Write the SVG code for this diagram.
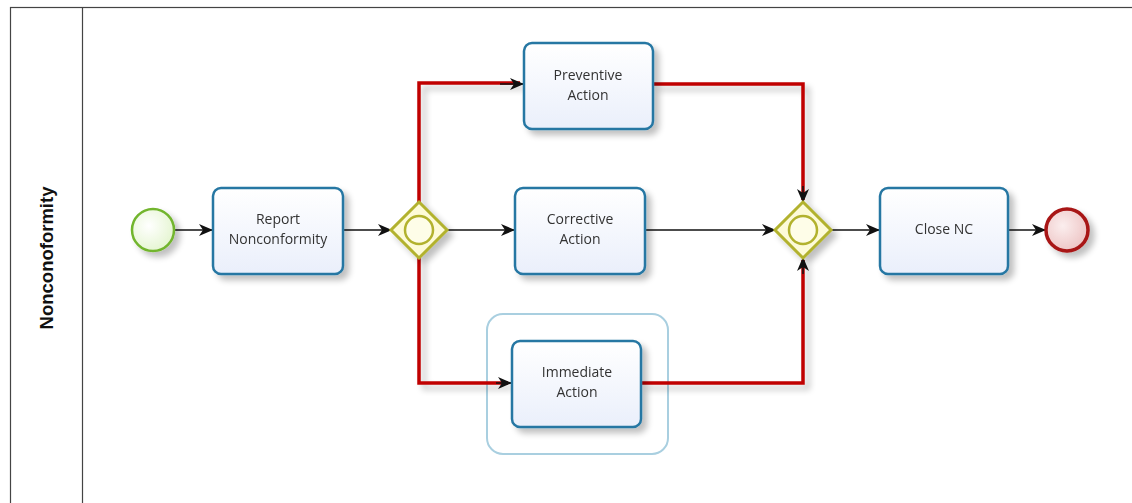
<svg xmlns="http://www.w3.org/2000/svg" width="1132" height="503" viewBox="0 0 1132 503">
<style>
.task{fill:url(#tg);stroke:#2677a3;stroke-width:2.5}
.lbl{font-family:"Open Sans","Noto Sans",sans-serif;font-size:14px;fill:#333;text-anchor:middle}
.flow{fill:none;stroke:#111;stroke-width:1.5}
.red{fill:none;stroke:#c00000;stroke-width:3.5;stroke-linejoin:miter}
.gw{fill:#fdfbd8;stroke:#b2b22e;stroke-width:3}
</style>
<defs>
<linearGradient id="tg" x1="0" y1="0" x2="0" y2="1"><stop offset="0" stop-color="#ffffff"/><stop offset="1" stop-color="#eaeffb"/></linearGradient>
<radialGradient id="sg" cx="0.4" cy="0.4" r="0.7"><stop offset="0" stop-color="#ffffff"/><stop offset="1" stop-color="#e2f4cc"/></radialGradient>
<radialGradient id="eg" cx="0.4" cy="0.4" r="0.7"><stop offset="0" stop-color="#fbeeee"/><stop offset="1" stop-color="#ecc0c0"/></radialGradient>
<filter id="sh" x="-20%" y="-20%" width="150%" height="150%"><feGaussianBlur in="SourceAlpha" stdDeviation="3"/><feOffset dx="5" dy="5"/><feComponentTransfer><feFuncA type="linear" slope="0.25"/></feComponentTransfer><feMerge><feMergeNode/><feMergeNode in="SourceGraphic"/></feMerge></filter>
<marker id="ar" viewBox="0 0 14 12" refX="13" refY="6" markerWidth="14" markerHeight="12" markerUnits="userSpaceOnUse" orient="auto"><path d="M0,0 L14,6 L0,12 L4,6 Z" fill="#111"/></marker>
</defs>
<rect width="1132" height="503" fill="#ffffff"/>
<g id="pool">
<rect x="10.5" y="7.5" width="1130" height="505" fill="none" stroke="#444" stroke-width="1.2"/>
<line x1="82.5" y1="7.5" x2="82.5" y2="503" stroke="#444" stroke-width="1.2"/>
<text x="0" y="0" transform="translate(53,258) rotate(-90)" font-family="'Liberation Sans',Arial,sans-serif" font-size="18.5" font-weight="bold" text-anchor="middle" fill="#111">Nonconoformity</text>
</g>
<g id="immediate-group">
<rect x="487" y="314" width="181" height="140" rx="16" fill="none" stroke="#a9cfe0" stroke-width="2"/>
</g>
<g id="connectors">
<g filter="url(#sh)">
<polyline class="red" points="419,202 419,83 520,83"/>
<polyline class="red" points="419,258 419,383 508,383"/>
<polyline class="red" points="653,84 803,84 803,200"/>
<polyline class="red" points="641,383 803,383 803,260"/>
</g>
<line class="flow" x1="175" y1="230" x2="212" y2="230" marker-end="url(#ar)"/>
<line class="flow" x1="344" y1="230" x2="391" y2="230" marker-end="url(#ar)"/>
<line class="flow" x1="500" y1="84" x2="523" y2="84" marker-end="url(#ar)"/>
<line class="flow" x1="447" y1="230" x2="514" y2="230" marker-end="url(#ar)"/>
<line class="flow" x1="496" y1="383" x2="511" y2="383" marker-end="url(#ar)"/>
<line class="flow" x1="803" y1="186" x2="803" y2="202" marker-end="url(#ar)"/>
<line class="flow" x1="645" y1="230" x2="775" y2="230" marker-end="url(#ar)"/>
<line class="flow" x1="803" y1="274" x2="803" y2="258" marker-end="url(#ar)"/>
<line class="flow" x1="831" y1="230" x2="879" y2="230" marker-end="url(#ar)"/>
<line class="flow" x1="1008" y1="230" x2="1045" y2="230" marker-end="url(#ar)"/>
</g>
<g id="start" filter="url(#sh)">
<circle cx="153" cy="230" r="21" fill="url(#sg)" stroke="#72b52d" stroke-width="2.5"/>
</g>
<g id="report" filter="url(#sh)">
<rect class="task" x="213" y="188" width="130" height="86" rx="8"/>
<text class="lbl" x="278" y="224">Report</text>
<text class="lbl" x="278" y="244">Nonconformity</text>
</g>
<g id="gateway1" filter="url(#sh)">
<polygon class="gw" points="419,202 447,230 419,258 391,230"/>
<circle cx="419" cy="230" r="14" fill="#fefde8" stroke="#b2b22e" stroke-width="2.5"/>
</g>
<g id="preventive" filter="url(#sh)">
<rect class="task" x="524" y="43" width="129" height="86" rx="8"/>
<text class="lbl" x="588" y="80">Preventive</text>
<text class="lbl" x="588" y="100">Action</text>
</g>
<g id="corrective" filter="url(#sh)">
<rect class="task" x="515" y="188" width="130" height="86" rx="8"/>
<text class="lbl" x="580" y="224">Corrective</text>
<text class="lbl" x="580" y="244">Action</text>
</g>
<g id="immediate" filter="url(#sh)">
<rect class="task" x="512" y="341" width="129" height="86" rx="8"/>
<text class="lbl" x="577" y="377">Immediate</text>
<text class="lbl" x="577" y="397">Action</text>
</g>
<g id="gateway2" filter="url(#sh)">
<polygon class="gw" points="803,202 831,230 803,258 775,230"/>
<circle cx="803" cy="230" r="14" fill="#fefde8" stroke="#b2b22e" stroke-width="2.5"/>
</g>
<g id="close" filter="url(#sh)">
<rect class="task" x="880" y="188" width="128" height="86" rx="8"/>
<text class="lbl" x="944" y="234">Close NC</text>
</g>
<g id="end" filter="url(#sh)">
<circle cx="1067" cy="230" r="21" fill="url(#eg)" stroke="#a81515" stroke-width="3.5"/>
</g>
</svg>
